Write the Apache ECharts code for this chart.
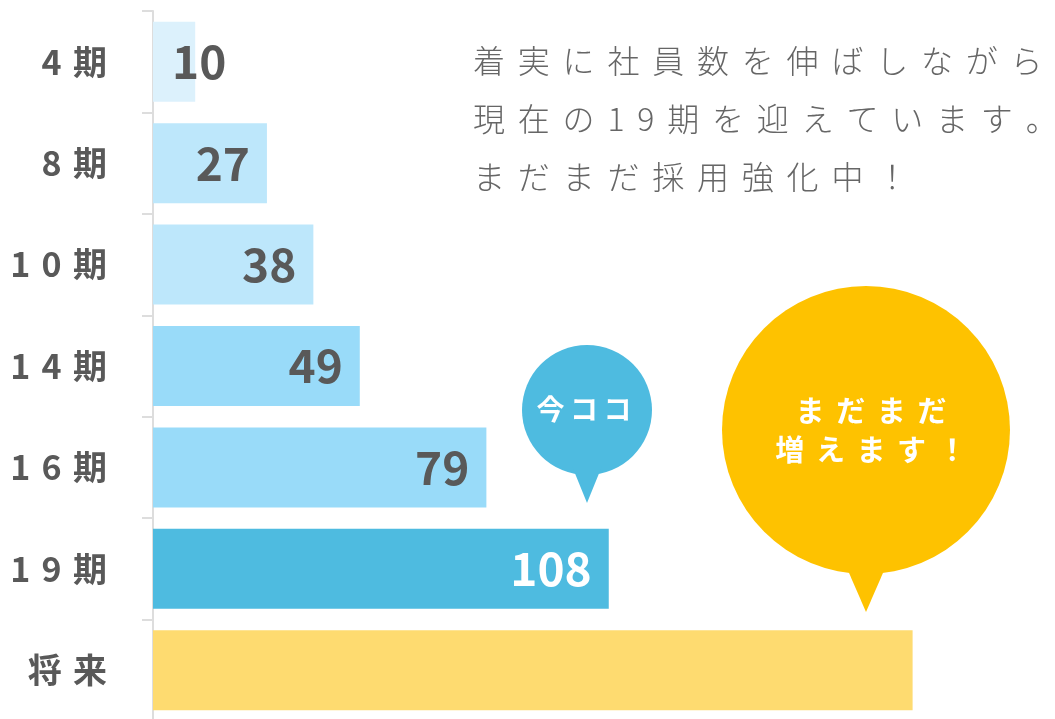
<!DOCTYPE html>
<html>
<head>
<meta charset="utf-8">
<style>
  html, body { margin: 0; padding: 0; background: #fff; }
  #main { width: 1055px; height: 719px; }
</style>
<script src="https://cdn.jsdelivr.net/npm/echarts@6/dist/echarts.min.js"></script>
</head>
<body>
<div id="main"></div>
<script>
// data
const categories = ["4期", "8期", "10期", "14期", "16期", "19期", "将来"];
const members = [10, 27, 38, 49, 79, 108, 180];
const barColors = ["#dcf1fc", "#bde7fb", "#bde7fb", "#99dbf9", "#99dbf9", "#4ebbe0", "#fedb70"];
const messageLines = ["着実に社員数を伸ばしながら", "現在の19期を迎えています。", "まだまだ採用強化中！"];
const nowText = "今ココ";
const futureLines = ["まだまだ", "増えます！"];

const FONT = '"Noto Sans CJK JP", "Noto Sans", sans-serif';
const THIN = "\u2009";
const spaced = (s, sep) => s.split("").join(sep);

const chart = echarts.init(document.getElementById("main"));

const option = {
  animation: false,
  grid: { left: 153, right: 58, top: 11, bottom: -2, outerBoundsMode: "none" },
  xAxis: {
    type: "value",
    min: 0,
    max: 200,
    show: false,
  },
  yAxis: {
    type: "category",
    inverse: true,
    data: categories,
    axisLine: { show: true, lineStyle: { color: "#dddddd", width: 2 } },
    axisTick: { show: true, length: 11, lineStyle: { color: "#dddddd", width: 2 } },
    axisLabel: {
      margin: 46,
      fontSize: 34,
      fontWeight: "bold",
      color: "#595959",
      fontFamily: FONT,
      formatter: (v) => spaced(v, "\u2004"),
    },
  },
  series: [
    {
      type: "bar",
      barWidth: 80,
      label: {
        show: true,
        position: "insideRight",
        distance: 17,
        fontSize: 46,
        fontWeight: "bold",
        fontFamily: FONT,
        color: "#595959",
      },
      data: members.map((v, i) => {
        let label = {};
        if (i === members.length - 1) label = { show: false };
        else if (v < 20) label = { position: "insideLeft", distance: 19 };
        else if (i === members.length - 2) label = { color: "#ffffff" };
        return { value: v, itemStyle: { color: barColors[i] }, label: label };
      }),
    },
  ],
  graphic: [
    // message at top right
    ...messageLines.map((t, i) => ({
      type: "text",
      x: 473,
      y: 61 + i * 58,
      style: {
        text: spaced(t, THIN + THIN),
        fill: "#666666",
        font: "300 32px " + FONT,
        textAlign: "left",
        textVerticalAlign: "middle",
      },
    })),
    // 今ココ bubble
    { type: "circle", shape: { cx: 587, cy: 410, r: 65 }, style: { fill: "#4ebbe0" } },
    { type: "polygon", shape: { points: [[572, 466], [602, 466], [587, 503]] }, style: { fill: "#4ebbe0" } },
    {
      type: "text",
      x: 584,
      y: 409,
      style: {
        text: spaced(nowText, THIN),
        fill: "#ffffff",
        font: "bold 28px " + FONT,
        textAlign: "center",
        textVerticalAlign: "middle",
      },
    },
    // future bubble
    { type: "circle", shape: { cx: 866, cy: 430, r: 144 }, style: { fill: "#fec200" } },
    { type: "polygon", shape: { points: [[846, 566], [886, 566], [866, 612]] }, style: { fill: "#fec200" } },
    ...futureLines.map((t, i) => ({
      type: "text",
      x: 871,
      y: 411 + i * 39,
      style: {
        text: spaced(t, THIN + THIN),
        fill: "#ffffff",
        font: "bold 29px " + FONT,
        textAlign: "center",
        textVerticalAlign: "middle",
      },
    })),
  ],
};

chart.setOption(option);
</script>
</body>
</html>
